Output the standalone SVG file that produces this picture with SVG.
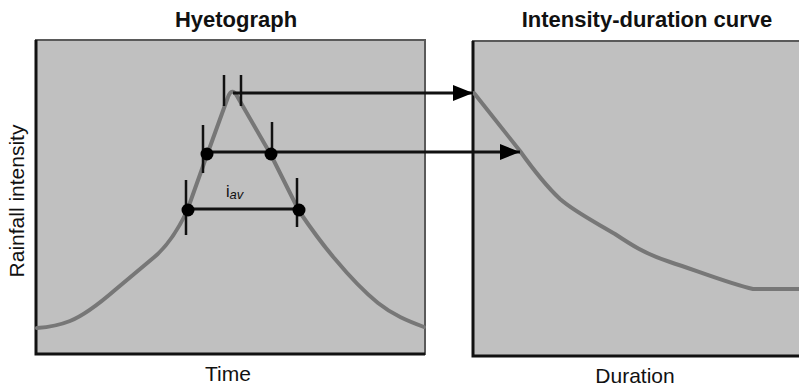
<svg xmlns="http://www.w3.org/2000/svg" width="799" height="386" viewBox="0 0 799 386">
<style>
.title{font-family:"Liberation Sans",Arial,sans-serif;font-weight:bold;font-size:22px;fill:#111;text-anchor:middle}
.lab{font-family:"Liberation Sans",Arial,sans-serif;font-size:21px;fill:#111;text-anchor:middle}
.panel{fill:#c0c0c0;stroke:#5a5a5a;stroke-width:2}
.axis{stroke:#111;stroke-width:3;fill:none}
.curve{fill:none;stroke:#777;stroke-width:4;stroke-linejoin:round;stroke-linecap:round}
.tick{stroke:#111;stroke-width:2.5}
.conn{stroke:#111;stroke-width:3;fill:none}
.dot{fill:#000}
</style>
<defs>
<marker id="ah" markerUnits="userSpaceOnUse" markerWidth="20" markerHeight="16" refX="20" refY="8" orient="auto">
<path d="M0,0 L20,8 L0,16 z" fill="#000"/>
</marker>
</defs>
<rect width="799" height="386" fill="#fff"/>
<g id="hyetograph">
<text class="title" x="236" y="27">Hyetograph</text>
<rect class="panel" x="36" y="40" width="389" height="314"/>
<path class="axis" d="M36,40 V354 H425"/>
<path class="curve" d="M37,328 C50,327 60,325 70,321 C85,315 100,303 115,290 C128,279 140,269 152,259 C166,248 177,232 187,211 L207,155 L228,97 Q232,87 237,96 L271,155 L299,211 C312,230 322,244 335,259 C350,277 362,290 378,303 C393,315 408,321 424,327"/>
<text class="lab" transform="translate(24,201) rotate(-90)">Rainfall intensity</text>
<text class="lab" x="228" y="381">Time</text>
<text font-family="Liberation Sans,Arial,sans-serif" font-size="16" fill="#111" x="226" y="197">i<tspan font-size="13" font-style="italic" dy="2">av</tspan></text>
</g>
<g id="idcurve">
<text class="title" x="647" y="27">Intensity-duration curve</text>
<rect class="panel" x="473" y="41" width="340" height="315"/>
<path class="axis" d="M473,41 V356 H805"/>
<path class="curve" d="M474,93 L520,151 C530,165 545,185 560,199 C575,212 595,222 615,234 C630,244 645,254 670,262 C695,270 730,284 753,289 L800,289"/>
<text class="lab" x="635" y="383">Duration</text>
</g>
<g id="connectors">
<line class="tick" x1="224" y1="75" x2="224" y2="106"/>
<line class="tick" x1="241" y1="75" x2="241" y2="106"/>
<line class="tick" x1="203" y1="125" x2="203" y2="173"/>
<line class="tick" x1="272" y1="122" x2="272" y2="154"/>
<line class="tick" x1="186" y1="180" x2="186" y2="235"/>
<line class="tick" x1="297" y1="178" x2="297" y2="227"/>
<line class="conn" x1="233" y1="93" x2="473" y2="93" marker-end="url(#ah)"/>
<line class="conn" x1="207" y1="152" x2="520" y2="152" marker-end="url(#ah)"/>
<line class="conn" x1="188" y1="209" x2="299" y2="209"/>
<circle class="dot" cx="207" cy="154" r="6.5"/>
<circle class="dot" cx="271" cy="154" r="6.5"/>
<circle class="dot" cx="188" cy="210" r="6.5"/>
<circle class="dot" cx="299" cy="210" r="6.5"/>
</g>
</svg>
